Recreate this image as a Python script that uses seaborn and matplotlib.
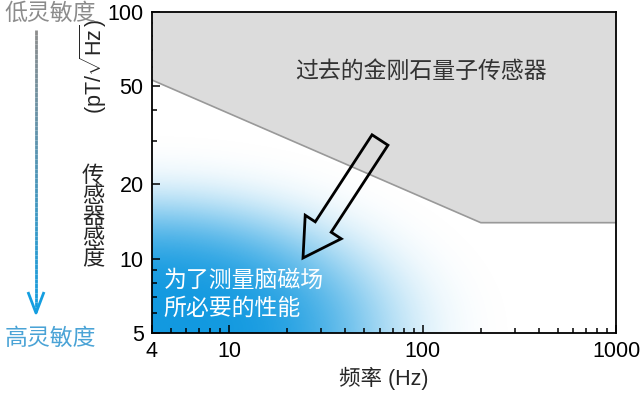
import numpy as np
import matplotlib
matplotlib.use('Agg')
import matplotlib.pyplot as plt
from matplotlib.collections import LineCollection
from matplotlib.patches import FancyArrow
from matplotlib.ticker import FixedLocator, NullFormatter
import seaborn as sns

# boundary of the region covered by earlier diamond quantum sensors
freq_edge = [4, 200, 1000]
sens_edge = [53, 14, 14]

x_ticks = [4, 10, 100, 1000]
x_minor = [5, 6, 7, 8, 9, 20, 30, 40, 50, 60, 70, 80, 90,
           200, 300, 400, 500, 600, 700, 800, 900]
y_ticks = [5, 10, 20, 50, 100]
y_minor = [6, 7, 8, 9, 30, 40, 60, 70, 80, 90]

old_label = '过去的金刚石量子传感器'
target_label = '为了测量脑磁场\n所必要的性能'

sns.set_theme(style='ticks')
plt.rcParams['font.family'] = ['Liberation Sans', 'Noto Sans CJK SC', 'DejaVu Sans']
plt.rcParams['mathtext.fontset'] = 'custom'
plt.rcParams['mathtext.rm'] = 'Liberation Sans'

fig = plt.figure(figsize=(6.4, 3.93), dpi=100)
ax = fig.add_axes([152 / 640, 60 / 393, 464 / 640, 321 / 393])

# blue gradient in the lower left corner
gx, gy = np.meshgrid(np.linspace(0, 1, 400), np.linspace(0, 1, 400))
r = np.sqrt((gx / 0.5) ** 2 + (gy / 0.4) ** 2)
alpha = np.exp(-r ** 4)
rgba = np.zeros(gx.shape + (4,))
rgba[..., 0] = 0.07
rgba[..., 1] = 0.60
rgba[..., 2] = 0.88
rgba[..., 3] = alpha
ax.imshow(rgba, extent=[0, 1, 0, 1], origin='lower', transform=ax.transAxes,
          aspect='auto', zorder=0, interpolation='bilinear')

ax.fill_between(freq_edge, sens_edge, 100, color='#dcdcdc', zorder=1, lw=0)
sns.lineplot(x=freq_edge, y=sens_edge, ax=ax, color='#999999', lw=1.2, zorder=2)

ax.set_xscale('log')
ax.set_yscale('log')
ax.set_xlim(4, 1000)
ax.set_ylim(5, 100)
ax.xaxis.set_major_locator(FixedLocator(x_ticks))
ax.xaxis.set_minor_locator(FixedLocator(x_minor))
ax.yaxis.set_major_locator(FixedLocator(y_ticks))
ax.yaxis.set_minor_locator(FixedLocator(y_minor))
ax.set_xticklabels([str(t) for t in x_ticks])
ax.set_yticklabels([str(t) for t in y_ticks])
ax.xaxis.set_minor_formatter(NullFormatter())
ax.yaxis.set_minor_formatter(NullFormatter())
ax.tick_params(which='both', direction='in', colors='black', labelsize=15.5, width=1.1,
               top=False, right=False)
ax.tick_params(which='major', length=6, pad=6)
ax.tick_params(which='minor', length=3.5)
for s in ax.spines.values():
    s.set_visible(True)
    s.set_color('black')
    s.set_linewidth(1.3)
    s.set_zorder(5)

ax.set_xlabel('频率 (Hz)', fontsize=15.5, labelpad=3)

ax.text(0.58, 0.815, old_label, transform=ax.transAxes, ha='center', va='center',
        fontsize=16.5, color='#333333', zorder=3)
ax.text(0.025, 0.12, target_label, transform=ax.transAxes, ha='left', va='center',
        fontsize=16.5, color='white', linespacing=1.3, zorder=3)

# hollow arrow pointing toward better sensitivity
fig.add_artist(FancyArrow(3.80, 2.53, -0.77, -1.18, width=0.19, head_width=0.43,
                          head_length=0.37, length_includes_head=True, fill=False,
                          edgecolor='black', lw=2, transform=fig.dpi_scale_trans))

# y label: unit rotated, name stacked
fig.text(93 / 640, 1 - 67 / 393, '(pT/$\\sqrt{\\mathrm{Hz}}$)', rotation=90,
         ha='center', va='center', fontsize=15.5)
fig.text(93 / 640, 1 - 218 / 393, '\n'.join('传感器感度'), ha='center', va='center',
         fontsize=16, linespacing=1.0)

# sensitivity arrow on the far left
ys = np.linspace(30, 312, 60)
segs = [[(36, 393 - ys[i]), (36, 393 - ys[i + 1])] for i in range(len(ys) - 1)]
c0 = np.array([0.55, 0.55, 0.55])
c1 = np.array([0.08, 0.62, 0.88])
cols = [tuple(c0 + (c1 - c0) * t) for t in np.linspace(0, 1, len(segs))]
lc = LineCollection(segs, colors=cols, lw=2, transform=None)
fig.add_artist(lc)
fig.add_artist(LineCollection([[(28, 393 - 292), (36, 393 - 313), (44, 393 - 292)]],
                              colors=[tuple(c1)], lw=2, transform=None))
fig.text(50 / 640, 1 - 13 / 393, '低灵敏度', ha='center', va='center', fontsize=16.5,
         color='#8c8c8c')
fig.text(50 / 640, 1 - 338 / 393, '高灵敏度', ha='center', va='center', fontsize=16.5,
         color='#4aa3d6')

fig.savefig('out.png', dpi=100)
